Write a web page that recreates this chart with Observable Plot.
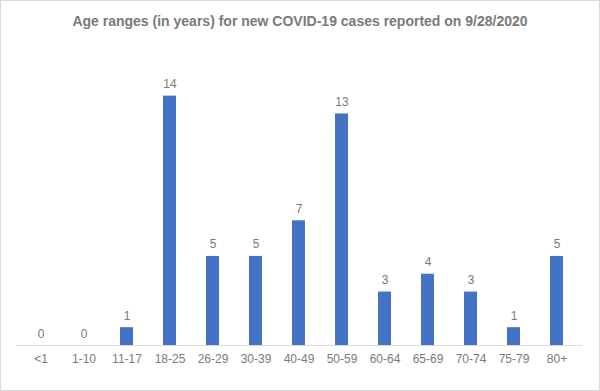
<!DOCTYPE html>
<html>
<head>
<meta charset="utf-8">
<script src="https://cdn.jsdelivr.net/npm/d3@7"></script>
<script src="https://cdn.jsdelivr.net/npm/@observablehq/plot@0.6"></script>
<style>
  html, body { margin: 0; padding: 0; background: #fff; }
  #wrap { width: 600px; height: 391px; box-sizing: border-box; border: 1px solid #d9d9d9; position: relative; overflow: hidden; font-family: "Liberation Sans", Arial, sans-serif; }
  #title { height: 39px; line-height: 40px; text-align: center; font-weight: bold; font-size: 14px; color: #7a7a7a; }
  svg { display: block; }
</style>
</head>
<body>
<div id="wrap">
  <div id="title">Age ranges (in years) for new COVID-19 cases reported on 9/28/2020</div>
  <div id="chart"></div>
</div>
<script>
const categories = ["<1", "1-10", "11-17", "18-25", "26-29", "30-39", "40-49", "50-59", "60-64", "65-69", "70-74", "75-79", "80+"];
const values = [0, 0, 1, 14, 5, 5, 7, 13, 3, 4, 3, 1, 5];

const data = categories.map((c, i) => ({category: c, value: values[i]}));

const chart = Plot.plot({
  width: 598,
  height: 350,
  marginTop: 20,
  marginBottom: 45,
  marginLeft: 15,
  marginRight: 17,
  style: {fontFamily: "Liberation Sans, Arial, sans-serif", fontSize: "12px", color: "#7a7a7a", background: "transparent"},
  x: {domain: categories, paddingInner: 0.69, paddingOuter: 0.345, label: null},
  y: {domain: [0, 16], axis: null},
  marks: [
    Plot.barY(data, {x: "category", y: "value", fill: "#4472c4"}),
    Plot.ruleY([0], {stroke: "#d9d9d9", strokeWidth: 1}),
    Plot.axisX({tickSize: 0, tickPadding: 9, fill: "#7a7a7a", fontSize: 12, label: null}),
    Plot.text(data, {x: "category", y: "value", text: d => String(d.value), dy: -8, lineAnchor: "bottom", fill: "#7a7a7a", fontSize: 12})
  ]
});
document.getElementById("chart").appendChild(chart);
</script>
</body>
</html>
